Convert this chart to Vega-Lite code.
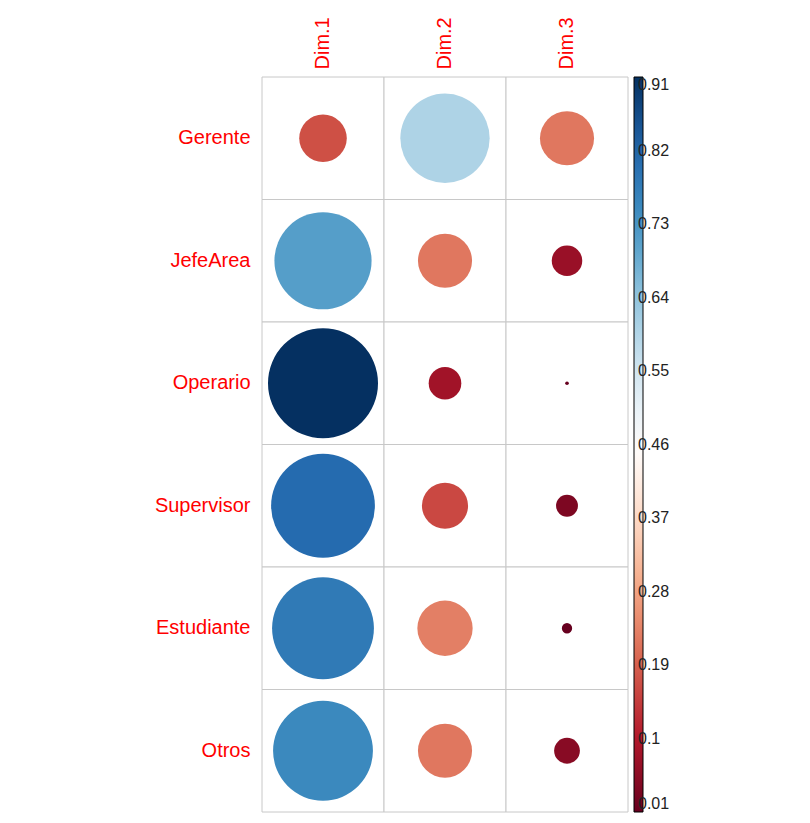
{
  "$schema": "https://vega.github.io/schema/vega-lite/v6.json",
  "autosize": {"type": "none"},
  "padding": {"left": 262, "top": 77, "right": 182, "bottom": 11},
  "width": 366,
  "height": 735,
  "background": "white",
  "config": {
    "font": "Liberation Sans",
    "view": {"stroke": null}
  },
  "data": {
    "values": [
      {"row": "Gerente", "dim": "Dim.1", "value": 0.17},
      {"row": "Gerente", "dim": "Dim.2", "value": 0.60},
      {"row": "Gerente", "dim": "Dim.3", "value": 0.22},
      {"row": "JefeArea", "dim": "Dim.1", "value": 0.71},
      {"row": "JefeArea", "dim": "Dim.2", "value": 0.22},
      {"row": "JefeArea", "dim": "Dim.3", "value": 0.07},
      {"row": "Operario", "dim": "Dim.1", "value": 0.91},
      {"row": "Operario", "dim": "Dim.2", "value": 0.08},
      {"row": "Operario", "dim": "Dim.3", "value": 0.001},
      {"row": "Supervisor", "dim": "Dim.1", "value": 0.81},
      {"row": "Supervisor", "dim": "Dim.2", "value": 0.16},
      {"row": "Supervisor", "dim": "Dim.3", "value": 0.036},
      {"row": "Estudiante", "dim": "Dim.1", "value": 0.78},
      {"row": "Estudiante", "dim": "Dim.2", "value": 0.23},
      {"row": "Estudiante", "dim": "Dim.3", "value": 0.008},
      {"row": "Otros", "dim": "Dim.1", "value": 0.75},
      {"row": "Otros", "dim": "Dim.2", "value": 0.22},
      {"row": "Otros", "dim": "Dim.3", "value": 0.05}
    ]
  },
  "encoding": {
    "x": {
      "field": "dim", "type": "nominal", "title": null,
      "scale": {"paddingInner": 0, "paddingOuter": 0},
      "axis": {"orient": "top", "labelAngle": -90, "domain": false, "ticks": false, "grid": false,
               "labelColor": "red", "labelFontSize": 20, "labelPadding": 8}
    },
    "y": {
      "field": "row", "type": "nominal", "title": null,
      "sort": ["Gerente", "JefeArea", "Operario", "Supervisor", "Estudiante", "Otros"],
      "scale": {"paddingInner": 0, "paddingOuter": 0},
      "axis": {"domain": false, "ticks": false, "grid": false,
               "labelColor": "red", "labelFontSize": 20, "labelPadding": 12}
    }
  },
  "layer": [
    {
      "mark": {"type": "rect", "fill": "white", "stroke": "#c8c8c8", "strokeWidth": 1}
    },
    {
      "mark": {"type": "circle", "opacity": 1, "strokeWidth": 0},
      "encoding": {
        "color": {
          "field": "value", "type": "quantitative",
          "scale": {
            "domain": [0.01, 0.1, 0.19, 0.28, 0.37, 0.46, 0.55, 0.64, 0.73, 0.82, 0.91],
            "range": ["#67001F", "#B2182B", "#D6604D", "#F4A582", "#FDDBC7", "#FFFFFF", "#D1E5F0", "#92C5DE", "#4393C3", "#2166AC", "#053061"],
            "interpolate": "rgb", "clamp": true, "nice": false, "zero": false
          },
          "legend": {
            "title": null, "orient": "right", "direction": "vertical",
            "gradientLength": 735, "gradientThickness": 9,
            "gradientStrokeColor": "black", "gradientStrokeWidth": 1,
            "labelFontSize": 16, "labelColor": "#222222", "labelOffset": -5,
            "labelOverlap": false,
            "values": [0.01, 0.1, 0.19, 0.28, 0.37, 0.46, 0.55, 0.64, 0.73, 0.82, 0.91],
            "format": ".2~f", "offset": 6, "padding": 0
          }
        },
        "size": {
          "field": "value", "type": "quantitative",
          "scale": {"domain": [0, 0.91], "range": [0, 12100], "zero": true},
          "legend": null
        }
      }
    }
  ]
}
